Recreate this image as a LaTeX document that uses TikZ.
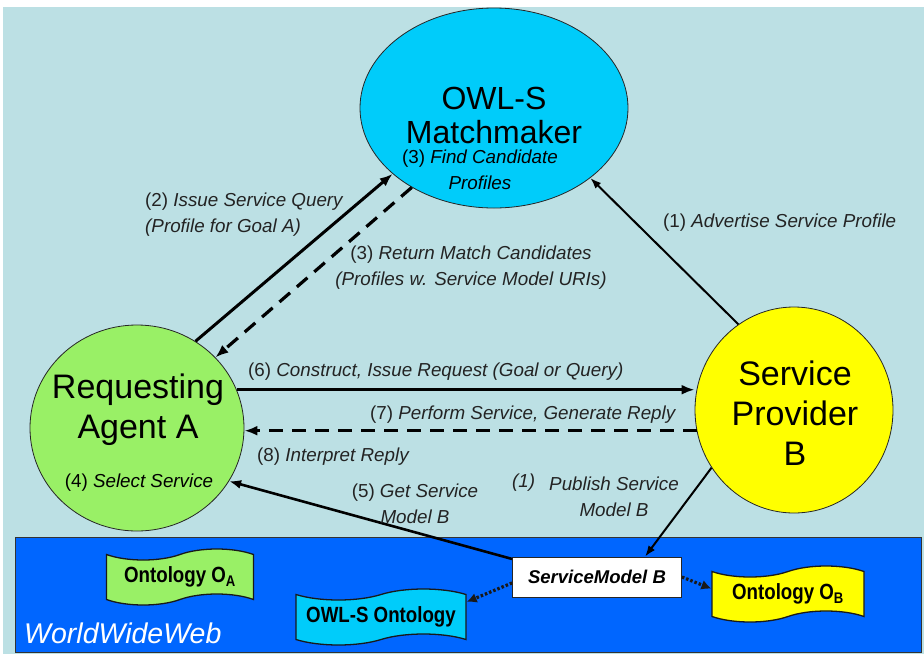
\documentclass[tikz,border=0pt]{standalone}
\usepackage{fontspec}
\setmainfont{Liberation Sans}
\newfontfamily\condsans[FakeStretch=0.85]{Liberation Sans}
\usetikzlibrary{arrows.meta,shapes.geometric,shapes.symbols}
\definecolor{bgblue}{RGB}{188,224,228}
\definecolor{webblue}{RGB}{0,102,255}
\definecolor{mmcyan}{RGB}{0,204,250}
\definecolor{agreen}{RGB}{153,240,102}
\definecolor{pyellow}{RGB}{255,255,0}
\definecolor{labelgray}{RGB}{35,35,35}
\begin{document}
\begin{tikzpicture}[x=1pt,y=-1pt,
  bigtxt/.style={font=\fontsize{34}{40}\selectfont, align=center, inner sep=0pt},
  lbl/.style={font=\fontsize{18.8}{26}\selectfont, text=labelgray, inner sep=0pt},
  bubble/.style={ellipse, draw=black!85, line width=0.8pt, inner sep=0pt},
  onto/.style={tape, draw=black!90, line width=1.3pt, tape bend height=11pt, inner sep=0pt,
    minimum width=150pt, minimum height=56pt, font=\condsans\fontsize{22}{24}\selectfont\bfseries},
  solidarrow/.style={line width=3pt, -{Latex[length=13pt,width=10pt]}},
  thinarrow/.style={line width=2pt, -{Latex[length=11pt,width=8pt]}},
  dasharrow/.style={line width=3.2pt, dash pattern=on 14pt off 9pt, -{Latex[length=13pt,width=10pt]}},
  dotarrow/.style={line width=3.2pt, draw=black!90, dash pattern=on 2.5pt off 2pt, -{Latex[length=10pt,width=10pt]}}
]
\useasboundingbox (0,0) rectangle (924,654);
\fill[white] (0,0) rectangle (924,654);
\fill[bgblue] (3,7) rectangle (924,654);

% web band
\node[draw=black!80, fill=webblue, line width=1pt, minimum width=906pt, minimum height=115pt,
  inner sep=0pt, anchor=north west] (web) at (15,537) {};
\node[anchor=west, font=\fontsize{28.5}{30}\selectfont\itshape, text=white, inner sep=0pt] (wwwlbl) at (24,633) {WorldWideWeb};

% main actors
\node[bubble, fill=mmcyan, minimum width=268pt, minimum height=200pt] (mm) at (494,108) {};
\node[bigtxt, font=\fontsize{32}{34}\selectfont] (mmtitle) at (494,115) {OWL-S\\Matchmaker};
\node[lbl, align=center, text=black] (mmnote) at (480,170) {(3) \textit{Find Candidate}\\\textit{Profiles}};

\node[bubble, fill=agreen, minimum width=214pt, minimum height=206pt] (agent) at (137,428) {};
\node[bigtxt] (agtitle) at (138,410) {Requesting\\Agent A};
\node[lbl, text=black] (agnote) at (139,483) {(4) \textit{Select Service}};

\node[bubble, fill=pyellow, minimum width=198pt, minimum height=206pt] (prov) at (794,410) {};
\node[bigtxt] (prtitle) at (795,413) {Service\\Provider\\B};

% web contents
\node[draw=black!85, fill=white, line width=0.8pt, minimum width=169pt, minimum height=40pt, inner sep=0pt,
  font=\fontsize{18.5}{20}\selectfont\bfseries\itshape] (smb) at (597,577) {ServiceModel B};
\node[onto, fill=agreen, minimum width=147pt] (oa) at (180,577) {Ontology O\textsubscript{A}};
\node[onto, fill=mmcyan, minimum width=170pt] (owls) at (381,617) {OWL-S Ontology};
\node[onto, fill=pyellow, minimum width=152pt] (ob) at (788,594) {Ontology O\textsubscript{B}};

% connectors
\draw[solidarrow] (agent.56) -- (mm.213);
\draw[dasharrow] (mm.224) -- (agent.42);
\draw[thinarrow] (prov.123) -- (mm.324);
\draw[solidarrow] (agent.21) -- (agent.21 -| prov.west);
\draw[dasharrow] (prov.192) -- (prov.192 -| agent.east);
\draw[thinarrow] (prov.215) -- (smb.23);
\draw[line width=2.6pt, -{Latex[length=12pt,width=9pt]}] (smb.168) -- (agent.330);
\draw[dotarrow] (smb.184) -- (owls.10);
\draw[dotarrow] (smb.east) -- (ob.176);

% labels
\node[lbl, align=left, anchor=west] (l2) at (145,215) {(2) \textit{Issue Service Query}\\\textit{(Profile for Goal A)}};
\node[lbl, align=center] (l3) at (471,268) {(3) \textit{Return Match Candidates}\\\textit{(Profiles w. Service Model URIs)}};
\node[lbl, anchor=west] (l1) at (663,223) {(1) \textit{Advertise Service Profile}};
\node[lbl, anchor=west] (l6) at (248,372) {(6) \textit{Construct, Issue Request (Goal or Query)}};
\node[lbl, anchor=west] (l7) at (370,415) {(7) \textit{Perform Service, Generate Reply}};
\node[lbl, anchor=west] (l8) at (257,457) {(8) \textit{Interpret Reply}};
\node[lbl, align=center] (l5) at (415,504) {(5) \textit{Get Service}\\\textit{Model B}};
\node[lbl, anchor=west] (l1pn) at (512,483) {\textit{(1)}};
\node[lbl, align=center] (l1p) at (614,497) {\textit{Publish Service}\\\textit{Model B}};
\end{tikzpicture}
\end{document}
